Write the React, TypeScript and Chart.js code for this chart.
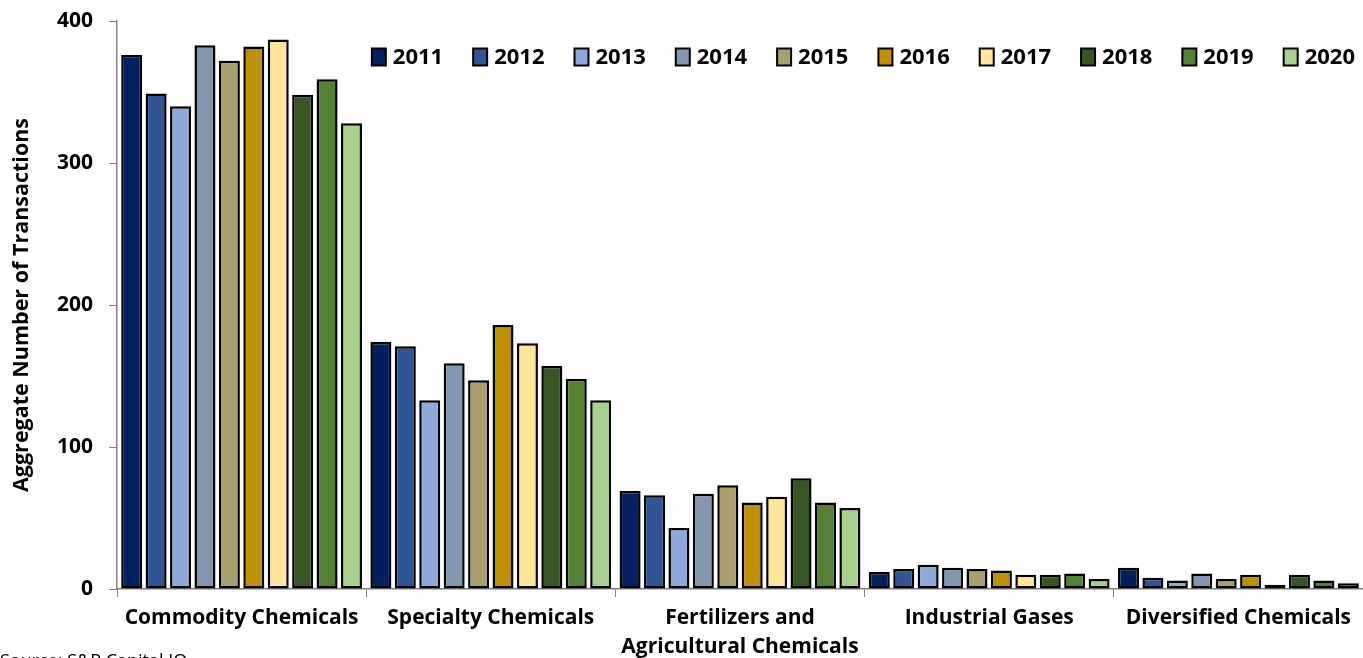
import React, { useEffect, useRef } from "react";
import { Chart, registerables } from "chart.js";

Chart.register(...registerables);

const categories: (string | string[])[] = [
  "Commodity Chemicals",
  "Specialty Chemicals",
  ["Fertilizers and", "Agricultural Chemicals"],
  "Industrial Gases",
  "Diversified Chemicals",
];

const years = ["2011", "2012", "2013", "2014", "2015", "2016", "2017", "2018", "2019", "2020"];

const v2011 = [376, 174, 69, 12, 15];
const v2012 = [349, 171, 66, 14, 8];
const v2013 = [340, 133, 43, 17, 6];
const v2014 = [383, 159, 67, 15, 11];
const v2015 = [372, 147, 73, 14, 7];
const v2016 = [382, 186, 61, 13, 10];
const v2017 = [387, 173, 65, 10, 3];
const v2018 = [348, 157, 78, 10, 10];
const v2019 = [359, 148, 61, 11, 6];
const v2020 = [328, 133, 57, 7, 4];

const seriesValues = [v2011, v2012, v2013, v2014, v2015, v2016, v2017, v2018, v2019, v2020];

const colors = [
  "#002060",
  "#2F5597",
  "#8EA9DB",
  "#8497B0",
  "#A89F6C",
  "#BF9000",
  "#FFE699",
  "#375623",
  "#548235",
  "#A9D18E",
];

const yTicks = [0, 100, 200, 300, 400];
const yTitle = "Aggregate Number of Transactions";
const sourceNote = "Source: S&P Capital IQ";

const FONT = "'Open Sans'";

// Legend drawn inside the plot area, top-right, in one row
const legendPlugin = {
  id: "rowLegend",
  afterDraw(chart: any) {
    const ctx = chart.ctx;
    const area = chart.chartArea;
    const box = 14;
    const boxH = 17;
    const gap = 7;
    const spacing = 30;
    ctx.save();
    ctx.font = `bold 22px ${FONT}`;
    const items = chart.data.datasets.map((d: any) => ({
      label: d.label,
      fill: d.backgroundColor,
      w: box + gap + ctx.measureText(d.label).width,
    }));
    const total = items.reduce((s: number, it: any) => s + it.w, 0) + spacing * (items.length - 1);
    let x = area.right - 8 - total;
    const cy = area.top + 36;
    ctx.textBaseline = "middle";
    ctx.textAlign = "left";
    items.forEach((it: any) => {
      ctx.fillStyle = it.fill;
      ctx.fillRect(x, cy - boxH / 2, box, boxH);
      ctx.strokeStyle = "#000";
      ctx.lineWidth = 2;
      ctx.strokeRect(x, cy - boxH / 2, box, boxH);
      ctx.fillStyle = "#000";
      ctx.fillText(it.label, x + box + gap, cy + 1);
      x += it.w + spacing;
    });
    ctx.restore();
  },
};

const sourcePlugin = {
  id: "sourceNote",
  afterDraw(chart: any) {
    const ctx = chart.ctx;
    ctx.save();
    ctx.font = `18px ${FONT}`;
    ctx.fillStyle = "#000";
    ctx.textAlign = "left";
    ctx.textBaseline = "alphabetic";
    ctx.fillText(sourceNote, 0, 667);
    ctx.restore();
  },
};

export default function App() {
  const ref = useRef<HTMLCanvasElement | null>(null);

  useEffect(() => {
    if (!ref.current) return;
    const chart = new Chart(ref.current, {
      type: "bar",
      data: {
        labels: categories,
        datasets: years.map((y, i) => ({
          label: y,
          data: seriesValues[i],
          backgroundColor: colors[i],
          borderColor: "#000",
          borderWidth: 2.5,
          borderSkipped: false,
          categoryPercentage: 0.98,
          barPercentage: 0.86,
        })),
      },
      options: {
        animation: false,
        responsive: false,
        layout: { padding: { top: 21, left: 0, right: 0, bottom: 0 } },
        plugins: {
          tooltip: { enabled: false },
          legend: { display: false },
        },
        scales: {
          x: {
            offset: true,
            grid: {
              display: true,
              drawOnChartArea: false,
              drawTicks: true,
              tickLength: 8,
              color: "#808080",
              offset: true,
            },
            border: { display: true, color: "#808080", width: 1.5 },
            ticks: {
              color: "#000",
              padding: 7,
              maxRotation: 0,
              autoSkip: false,
              font: { family: FONT, size: 21, weight: "bold", lineHeight: 1.38 },
            },
            afterFit(scale: any) {
              scale.height = 69;
            },
          },
          y: {
            min: 0,
            max: 400,
            afterBuildTicks(scale: any) {
              scale.ticks = yTicks.map((v) => ({ value: v }));
            },
            grid: {
              display: true,
              drawOnChartArea: false,
              drawTicks: true,
              tickLength: 8,
              color: "#808080",
            },
            border: { display: true, color: "#808080", width: 1.5 },
            ticks: {
              color: "#000",
              padding: 16,
              font: { family: FONT, size: 21, weight: "bold" },
            },
            title: {
              display: true,
              text: yTitle,
              color: "#000",
              font: { family: FONT, size: 21.5, weight: "bold" },
              padding: { top: 9, bottom: 0 },
            },
            afterFit(scale: any) {
              scale.width = 117;
              scale.paddingTop = 0;
              scale.paddingBottom = 0;
            },
          },
        },
      },
      plugins: [legendPlugin, sourcePlugin],
    } as any);
    return () => chart.destroy();
  }, []);

  return (
    <div style={{ position: "fixed", left: 0, top: 0, width: 1363, height: 658, overflow: "hidden", background: "#fff" }}>
      <canvas ref={ref} width={1363} height={658} style={{ display: "block" }} />
    </div>
  );
}
